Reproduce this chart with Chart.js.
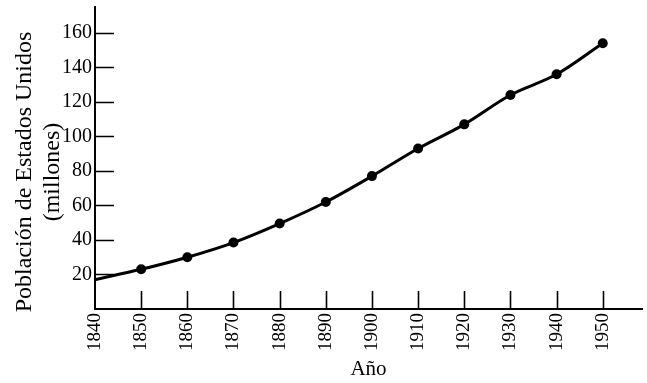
<!DOCTYPE html>
<html>
<head>
<meta charset="utf-8">
<script src="https://cdn.jsdelivr.net/npm/chart.js@4/dist/chart.umd.min.js"></script>
<style>
  html, body { margin: 0; padding: 0; background: #fff; }
  #wrap { width: 647px; height: 383px; }
</style>
</head>
<body>
<div id="wrap"><canvas id="chart"></canvas></div>
<script>
const years = [1840, 1850, 1860, 1870, 1880, 1890, 1900, 1910, 1920, 1930, 1940, 1950];
const population = [17, 23, 30, 38.5, 49.5, 62, 77, 93, 107, 124, 136, 154];
const markerRadius = [0, 5, 5, 5, 5, 5, 5, 5, 5, 5, 5, 5];
const yTickLabels = [20, 40, 60, 80, 100, 120, 140, 160];
const xTickLabels = [1840, 1850, 1860, 1870, 1880, 1890, 1900, 1910, 1920, 1930, 1940, 1950];
const yTitleLines = ['Población de Estados Unidos', '(millones)'];

const serif = 'Liberation Serif';

// short tick marks drawn inside the plot, like the printed figure
const innerTicks = {
  id: 'innerTicks',
  beforeDatasetsDraw(chart) {
    const {ctx, scales: {x, y}} = chart;
    ctx.save();
    ctx.strokeStyle = '#000';
    ctx.lineWidth = 1.6;
    ctx.beginPath();
    yTickLabels.forEach(v => {
      const py = Math.round(y.getPixelForValue(v)) + 0.5;
      ctx.moveTo(x.left, py);
      ctx.lineTo(x.left + 19, py);
    });
    xTickLabels.forEach(v => {
      if (v === x.min) return;
      const px = Math.round(x.getPixelForValue(v)) + 0.5;
      ctx.moveTo(px, y.bottom);
      ctx.lineTo(px, y.bottom - 18);
    });
    ctx.stroke();
    ctx.restore();
  }
};

// y title sits a little below the middle of the axis in the original
const yTitle = {
  id: 'yTitle',
  afterDraw(chart) {
    const {ctx, scales: {y}} = chart;
    const cy = (y.top + y.bottom) / 2 + 14;
    ctx.save();
    ctx.fillStyle = '#000';
    ctx.font = '24px "' + serif + '"';
    ctx.textAlign = 'center';
    ctx.textBaseline = 'middle';
    yTitleLines.forEach((line, i) => {
      ctx.save();
      ctx.translate(y.left + 25 + i * 28, cy);
      ctx.rotate(-Math.PI / 2);
      ctx.fillText(line, 0, 0);
      ctx.restore();
    });
    ctx.restore();
  }
};

new Chart(document.getElementById('chart'), {
  type: 'line',
  data: {
    datasets: [{
      data: years.map((yr, i) => ({x: yr, y: population[i]})),
      borderColor: '#000',
      backgroundColor: '#000',
      borderWidth: 3,
      pointRadius: markerRadius,
      pointBackgroundColor: '#000',
      pointBorderWidth: 0,
      cubicInterpolationMode: 'monotone',
      fill: false
    }]
  },
  options: {
    responsive: true,
    maintainAspectRatio: false,
    animation: false,
    events: [],
    layout: { padding: { top: 7, right: 0, left: 0, bottom: 0 } },
    plugins: { legend: { display: false }, tooltip: { enabled: false } },
    scales: {
      x: {
        type: 'linear',
        min: 1840,
        max: 1958.5,
        afterFit(scale) {
          scale.height = 74;
          scale.paddingLeft = 0;
          scale.paddingRight = 0;
        },
        ticks: {
          stepSize: 10,
          includeBounds: false,
          autoSkip: false,
          minRotation: 90,
          maxRotation: 90,
          padding: 4,
          color: '#000',
          font: { family: serif, size: 19 },
          callback: v => xTickLabels.includes(v) ? String(v) : ''
        },
        grid: { drawOnChartArea: false, drawTicks: false },
        border: { color: '#000', width: 2 },
        title: {
          display: true,
          text: 'Año',
          color: '#000',
          font: { family: serif, size: 21 },
          padding: { top: 0, bottom: 1 }
        }
      },
      y: {
        min: 0,
        max: 175,
        afterFit(scale) {
          scale.width = 95;
          scale.paddingTop = 0;
          scale.paddingBottom = 0;
        },
        ticks: {
          stepSize: 20,
          includeBounds: false,
          padding: 3,
          color: '#000',
          font: { family: serif, size: 20 },
          callback: v => yTickLabels.includes(v) ? String(v) : ''
        },
        grid: { drawOnChartArea: false, drawTicks: false },
        border: { color: '#000', width: 2 },
        title: { display: false }
      }
    }
  },
  plugins: [innerTicks, yTitle]
});
</script>
</body>
</html>
